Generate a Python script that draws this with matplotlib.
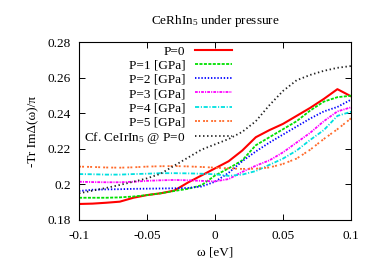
import numpy as np
import matplotlib
matplotlib.use("Agg")
import matplotlib.pyplot as plt
from matplotlib.ticker import FuncFormatter

plt.rcParams['font.family'] = ['Liberation Serif', 'DejaVu Serif']
plt.rcParams['mathtext.default'] = 'regular'
plt.rcParams['axes.unicode_minus'] = False
plt.rcParams['lines.scale_dashes'] = False

# omega grid [eV]
omega = np.round(np.arange(-0.1, 0.1001, 0.01), 3)

p0 = [0.189, 0.1892, 0.1897, 0.1903, 0.1925, 0.194, 0.195, 0.1965, 0.201, 0.205, 0.209,
      0.213, 0.219, 0.2265, 0.2305, 0.234, 0.2385, 0.243, 0.248, 0.2535, 0.2495]
p1 = [0.1925, 0.1925, 0.1925, 0.1927, 0.1932, 0.194, 0.195, 0.1963, 0.1975, 0.1995, 0.205,
      0.209, 0.2135, 0.222, 0.2265, 0.231, 0.2355, 0.2415, 0.2465, 0.249, 0.2498]
p2 = [0.1963, 0.197, 0.1972, 0.1973, 0.1975, 0.1976, 0.1977, 0.1978, 0.198, 0.1988, 0.2015,
      0.2065, 0.213, 0.2185, 0.2235, 0.228, 0.2325, 0.237, 0.241, 0.2435, 0.2476]
p3 = [0.2015, 0.2013, 0.2012, 0.2012, 0.2015, 0.202, 0.2023, 0.2025, 0.2023, 0.202, 0.2017,
      0.203, 0.207, 0.2105, 0.2135, 0.218, 0.2235, 0.229, 0.2355, 0.241, 0.2433]
p4 = [0.2058, 0.2057, 0.2055, 0.2055, 0.2058, 0.206, 0.2063, 0.2063, 0.2062, 0.206, 0.2057,
      0.2048, 0.2055, 0.2075, 0.211, 0.2145, 0.219, 0.225, 0.2305, 0.2385, 0.2408]
p5 = [0.21, 0.2098, 0.2095, 0.2094, 0.2096, 0.21, 0.2102, 0.2103, 0.2101, 0.2098, 0.2094,
      0.209, 0.2087, 0.2088, 0.2095, 0.2115, 0.2145, 0.2195, 0.2255, 0.231, 0.2371]
ceirin5 = [0.195, 0.1965, 0.198, 0.1997, 0.2015, 0.2034, 0.206, 0.2105, 0.215, 0.2195, 0.2225,
           0.2255, 0.2295, 0.2355, 0.2445, 0.2525, 0.2585, 0.2615, 0.2638, 0.2655, 0.2665]

labels = ['P=0', 'P=1 [GPa]', 'P=2 [GPa]', 'P=3 [GPa]', 'P=4 [GPa]', 'P=5 [GPa]',
          'Cf. CeIrIn$_5$ @ P=0']
xticks = [-0.1, -0.05, 0, 0.05, 0.1]
yticks = [0.18, 0.2, 0.22, 0.24, 0.26, 0.28]

series = [p0, p1, p2, p3, p4, p5, ceirin5]
colors = ['#ff0000', '#00e000', '#0000ff', '#ff00ff', '#00e0e0', '#ff6a2a', '#202020']
styles = ['-', (0, (2.2, 1.0)), (0, (1.0, 1.3)), (0, (2.0, 0.8, 0.8, 0.8)),
          (0, (3.0, 1.2, 0.8, 1.2)), (0, (1.4, 0.8, 1.4, 2.2)), (0, (1.0, 1.9))]
widths = [1.5, 1.3, 1.3, 1.3, 1.3, 1.3, 1.3]

fig = plt.figure(figsize=(3.75, 2.63), dpi=100)
ax = fig.add_axes([0.2107, 0.1635, 0.7253, 0.6768])

for y, lab, c, ls, lw in zip(series, labels, colors, styles, widths):
    ax.plot(omega, y, color=c, linestyle=ls, linewidth=lw, label=lab)

ax.set_xlim(-0.1, 0.1)
ax.set_ylim(0.18, 0.28)
ax.set_xticks(xticks)
ax.set_yticks(yticks)
fmt = FuncFormatter(lambda v, pos: '%g' % v)
ax.xaxis.set_major_formatter(fmt)
ax.yaxis.set_major_formatter(fmt)
ax.tick_params(direction='in', top=True, right=True, length=4, width=0.7,
               labelsize=9.5)
ax.tick_params(axis='x', pad=7.5)
ax.tick_params(axis='y', pad=6)
for s in ax.spines.values():
    s.set_linewidth(0.8)

ax.set_title('CeRhIn$_5$ under pressure', fontsize=9.5, pad=13)
ax.set_xlabel('ω [eV]', fontsize=9.5, labelpad=3)
ax.set_ylabel('-Tr ImΔ(ω)/π', fontsize=9.5, labelpad=6)

leg = ax.legend(loc='upper right', bbox_to_anchor=(0.5625, 0.98), frameon=False,
                markerfirst=False, fontsize=9.5, borderpad=0, borderaxespad=0,
                handlelength=2.8, handletextpad=0.75, labelspacing=0.14)

fig.savefig('out.png', dpi=100)
